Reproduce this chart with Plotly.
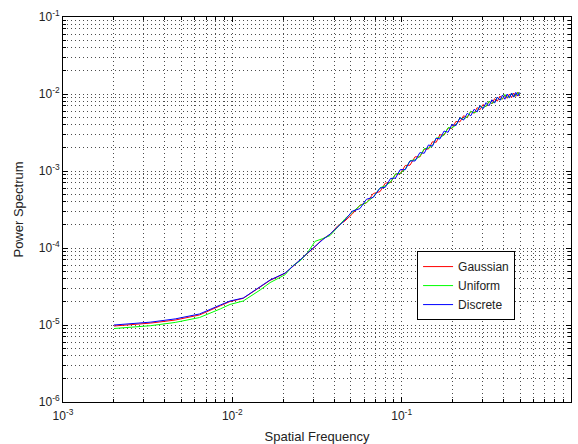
import plotly.graph_objects as go

freq = [0.002, 0.0025, 0.0033, 0.0046, 0.0064, 0.0085, 0.0097, 0.0116, 0.0146, 0.0167,
        0.0205, 0.0228, 0.0251, 0.0278, 0.0308, 0.034, 0.0378, 0.042, 0.0463, 0.051,
        0.0567, 0.062, 0.068, 0.0745, 0.080, 0.086, 0.092, 0.098, 0.105, 0.112,
        0.120, 0.128, 0.136, 0.144, 0.152, 0.160, 0.168, 0.178, 0.188, 0.198,
        0.209, 0.221, 0.232, 0.244, 0.256, 0.268, 0.279, 0.290, 0.302, 0.315,
        0.328, 0.341, 0.354, 0.367, 0.381, 0.394, 0.407, 0.420, 0.433, 0.446,
        0.459, 0.472, 0.486, 0.498]

gaussian = [0.97e-5, 1.00e-5, 1.06e-5, 1.16e-5, 1.35e-5, 1.78e-5, 2.02e-5, 2.22e-5, 3.08e-5, 3.80e-5,
            4.70e-5, 5.80e-5, 6.90e-5, 8.40e-5, 1.04e-4, 1.30e-4, 1.50e-4, 1.95e-4, 2.25e-4, 2.75e-4,
            3.60e-4, 3.85e-4, 5.10e-4, 5.40e-4, 6.95e-4, 7.10e-4, 9.10e-4, 9.20e-4, 1.18e-3, 1.19e-3,
            1.53e-3, 1.52e-3, 1.92e-3, 1.93e-3, 2.40e-3, 2.36e-3, 2.95e-3, 2.92e-3, 3.62e-3, 3.55e-3,
            4.40e-3, 4.35e-3, 5.22e-3, 4.95e-3, 5.95e-3, 5.62e-3, 6.65e-3, 6.25e-3, 7.30e-3, 6.85e-3,
            8.00e-3, 7.45e-3, 8.70e-3, 8.05e-3, 9.40e-3, 8.55e-3, 9.70e-3, 8.80e-3, 1.00e-2, 9.05e-3,
            1.03e-2, 9.30e-3, 1.06e-2, 9.40e-3]

uniform = [0.90e-5, 0.93e-5, 0.98e-5, 1.08e-5, 1.25e-5, 1.62e-5, 1.85e-5, 2.05e-5, 2.85e-5, 3.55e-5,
           4.50e-5, 5.90e-5, 6.80e-5, 8.70e-5, 1.22e-4, 1.32e-4, 1.45e-4, 1.88e-4, 2.40e-4, 2.90e-4,
           3.55e-4, 3.90e-4, 4.60e-4, 6.05e-4, 6.40e-4, 7.20e-4, 9.15e-4, 9.30e-4, 1.06e-3, 1.36e-3,
           1.40e-3, 1.55e-3, 1.95e-3, 1.98e-3, 2.14e-3, 2.68e-3, 2.70e-3, 2.95e-3, 3.65e-3, 3.62e-3,
           3.95e-3, 4.90e-3, 4.70e-3, 5.05e-3, 5.95e-3, 5.70e-3, 5.95e-3, 7.05e-3, 6.60e-3, 6.95e-3,
           8.05e-3, 7.55e-3, 7.85e-3, 9.05e-3, 8.40e-3, 8.70e-3, 9.85e-3, 9.05e-3, 9.25e-3, 1.03e-2,
           9.30e-3, 9.60e-3, 1.05e-2, 9.60e-3]

discrete = [1.00e-5, 1.03e-5, 1.09e-5, 1.20e-5, 1.39e-5, 1.82e-5, 2.05e-5, 2.24e-5, 3.12e-5, 3.84e-5,
            4.73e-5, 5.75e-5, 6.98e-5, 8.60e-5, 1.06e-4, 1.27e-4, 1.52e-4, 1.90e-4, 2.31e-4, 3.00e-4,
            3.25e-4, 4.30e-4, 4.55e-4, 6.00e-4, 6.15e-4, 8.00e-4, 8.10e-4, 1.04e-3, 1.04e-3, 1.35e-3,
            1.35e-3, 1.73e-3, 1.70e-3, 2.18e-3, 2.10e-3, 2.67e-3, 2.60e-3, 3.30e-3, 3.18e-3, 4.02e-3,
            3.88e-3, 4.92e-3, 4.58e-3, 5.62e-3, 5.22e-3, 6.35e-3, 5.85e-3, 7.05e-3, 6.42e-3, 7.72e-3,
            7.02e-3, 8.42e-3, 7.62e-3, 9.12e-3, 8.30e-3, 9.70e-3, 8.55e-3, 1.00e-2, 8.85e-3, 1.03e-2,
            9.10e-3, 1.05e-2, 9.40e-3, 1.05e-2]

series_names = ["Gaussian", "Uniform", "Discrete"]
series_colors = ["#ff0000", "#00ff00", "#0000ff"]

x_tickvals = [1e-3, 1e-2, 1e-1, 1e0]
x_ticktext = ["10<sup>-3</sup>", "10<sup>-2</sup>", "10<sup>-1</sup>", "10<sup>0</sup>"]
y_tickvals = [1e-6, 1e-5, 1e-4, 1e-3, 1e-2, 1e-1]
y_ticktext = ["10<sup>-6</sup>", "10<sup>-5</sup>", "10<sup>-4</sup>", "10<sup>-3</sup>",
              "10<sup>-2</sup>", "10<sup>-1</sup>"]

x_minor = [m * 10.0 ** e for e in (-3, -2, -1) for m in range(2, 10)]
y_minor = [m * 10.0 ** e for e in (-6, -5, -4, -3, -2) for m in range(2, 10)]

fig = go.Figure()
for name, color, vals in zip(series_names, series_colors, [gaussian, uniform, discrete]):
    fig.add_trace(go.Scatter(x=freq, y=vals, mode="lines", name=name,
                             line=dict(color=color, width=1)))

grid_col = "rgba(0,0,0,0.7)"
axis_common = dict(
    type="log", showline=True, linecolor="black", linewidth=1, mirror="ticks",
    ticks="inside", ticklen=5, tickcolor="black",
    showgrid=True, gridcolor=grid_col, gridwidth=1, griddash="1px,3px",
    zeroline=False, tickfont=dict(family="Liberation Sans, Arial", size=12, color="#222"),
    automargin=False,
)

fig.update_layout(
    width=578, height=444,
    margin=dict(l=63, r=7, t=17, b=42),
    paper_bgcolor="white", plot_bgcolor="white",
    font=dict(family="Liberation Sans, Arial", size=11, color="#222"),
    showlegend=True,
    legend=dict(x=0.697, y=0.392, xanchor="left", yanchor="top",
                bgcolor="white", bordercolor="black", borderwidth=1,
                font=dict(size=12, color="#222"), tracegroupgap=0,
                entrywidth=70, entrywidthmode="pixels"),
    xaxis=dict(axis_common, range=[-3, 0], tickmode="array",
               tickvals=x_tickvals, ticktext=x_ticktext, ticklabelstandoff=3,
               title=dict(text="Spatial Frequency", standoff=10),
               minor=dict(tickmode="array", tickvals=x_minor, ticks="inside",
                          ticklen=3, tickcolor="black", showgrid=True,
                          gridcolor=grid_col, gridwidth=1, griddash="1px,3px")),
    yaxis=dict(axis_common, range=[-6, -1], tickmode="array",
               tickvals=y_tickvals, ticktext=y_ticktext,
               title=dict(text="Power Spectrum", standoff=12),
               minor=dict(tickmode="array", tickvals=y_minor, ticks="inside",
                          ticklen=3, tickcolor="black", showgrid=True,
                          gridcolor=grid_col, gridwidth=1, griddash="1px,3px")),
)

fig.write_html("out.html")
